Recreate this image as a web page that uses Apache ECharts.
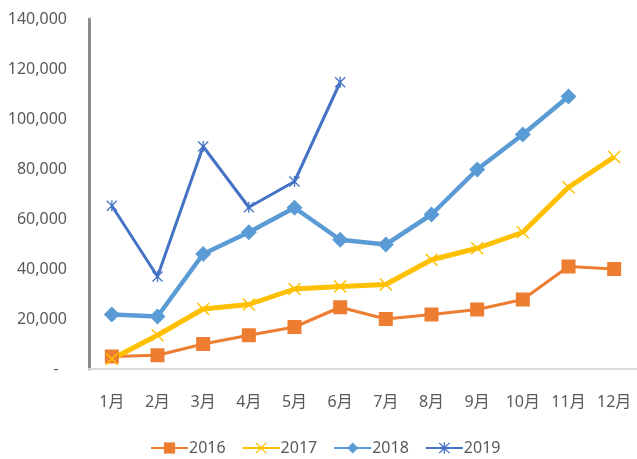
<!DOCTYPE html>
<html>
<head>
<meta charset="utf-8">
<script src="https://cdn.jsdelivr.net/npm/echarts@6/dist/echarts.min.js"></script>
<style>
  html, body { margin: 0; padding: 0; background: #fff; }
  #chart { width: 637px; height: 459px; }
</style>
</head>
<body>
<div id="chart"></div>
<script>
const months = ['1月', '2月', '3月', '4月', '5月', '6月', '7月', '8月', '9月', '10月', '11月', '12月'];
const seriesNames = ['2016', '2017', '2018', '2019'];
const values2016 = [5000, 5500, 10000, 13500, 16800, 24700, 20000, 21800, 23800, 27800, 41000, 40000];
const values2017 = [4000, 13500, 24000, 25800, 32000, 33000, 33800, 43700, 48300, 54700, 72700, 84800];
const values2018 = [21800, 21000, 46000, 54700, 64500, 51700, 49800, 61800, 79800, 93800, 109000];
const values2019 = [65300, 37000, 89000, 64700, 75000, 114700];
const yTicks = [0, 20000, 40000, 60000, 80000, 100000, 120000, 140000];

// Marker shapes: a cross and an asterisk, drawn as filled outlines
const crossPath = 'path://M0,0.08 L0.08,0 L0.5,0.42 L0.92,0 L1,0.08 L0.58,0.5 L1,0.92 L0.92,1 L0.5,0.58 L0.08,1 L0,0.92 L0.42,0.5 Z';
const starPath = crossPath + ' M0.44,0 L0.56,0 L0.56,1 L0.44,1 Z';

const font = '"Noto Sans", "Noto Sans CJK SC", sans-serif';
const textColor = '#595959';

function lineSeries(name, data, color, width, symbol, size) {
  return {
    name: name,
    type: 'line',
    data: data,
    symbol: symbol,
    symbolSize: size,
    showAllSymbol: true,
    lineStyle: { color: color, width: width },
    itemStyle: { color: color },
    emphasis: { disabled: true },
    z: 2
  };
}

const chart = echarts.init(document.getElementById('chart'), null, { renderer: 'canvas' });
chart.setOption({
  animation: false,
  backgroundColor: '#ffffff',
  textStyle: { fontFamily: font },
  grid: { left: 89, top: 19, width: 554, height: 350, containLabel: false },
  xAxis: {
    type: 'category',
    data: months,
    boundaryGap: true,
    axisLine: { show: true, lineStyle: { color: '#d9d9d9', width: 2 } },
    axisTick: { show: false },
    axisLabel: { color: textColor, fontSize: 16, fontFamily: font, margin: 25, interval: 0 },
    splitLine: { show: false }
  },
  yAxis: {
    type: 'value',
    min: yTicks[0],
    max: yTicks[yTicks.length - 1],
    interval: yTicks[1] - yTicks[0],
    axisLine: { show: true, lineStyle: { color: '#8c8c8c', width: 3 } },
    axisTick: { show: false },
    splitLine: { show: false },
    axisLabel: {
      color: textColor, fontSize: 16, fontFamily: font, margin: 22,
      formatter: v => v === 0 ? '-  ' : v.toLocaleString('en-US')
    }
  },
  legend: {
    top: 440,
    left: 150,
    padding: 0,
    itemWidth: 37,
    itemHeight: 14,
    itemGap: 16,
    textStyle: { color: textColor, fontSize: 16, fontFamily: font, padding: [0, 0, 0, -4] },
    data: seriesNames
  },
  series: [
    lineSeries(seriesNames[0], values2016, '#ED7D31', 3, 'rect', 14),
    lineSeries(seriesNames[1], values2017, '#FFC000', 5, crossPath, 13),
    lineSeries(seriesNames[2], values2018, '#5B9BD5', 4.5, 'diamond', 16),
    lineSeries(seriesNames[3], values2019, '#4472C4', 3, starPath, 11)
  ]
});
</script>
</body>
</html>
